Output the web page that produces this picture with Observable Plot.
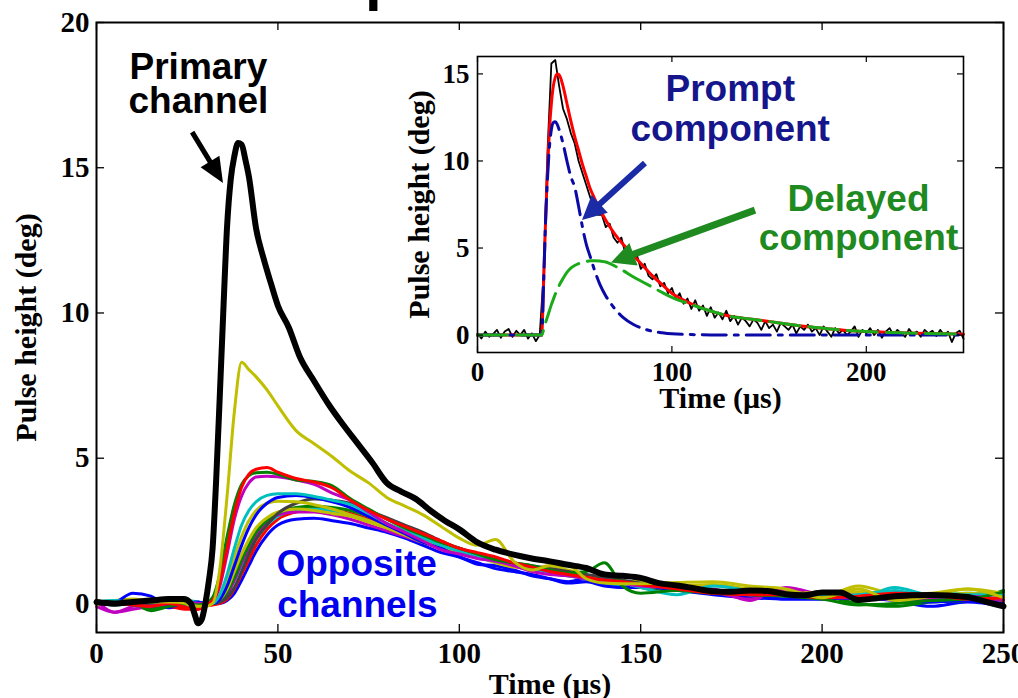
<!DOCTYPE html>
<html><head><meta charset="utf-8">
<script src="https://cdn.jsdelivr.net/npm/d3@7"></script>
<script src="https://cdn.jsdelivr.net/npm/@observablehq/plot@0.6"></script>
<style>
html,body{margin:0;padding:0;background:#fff;overflow:hidden}
#wrap{position:relative;width:1018px;height:698px}
#main{position:absolute;left:0;top:0}
#inset{position:absolute;left:400px;top:40px}
#ttl{position:absolute;left:365px;top:-51px;font:bold 60px 'Liberation Sans',Arial,sans-serif;line-height:60px}
svg{overflow:visible}
</style></head><body>
<div id="wrap"><div id="main"></div><div id="inset"></div><div id="ttl">p</div></div>
<script>
// ---------- tick values & labels ----------
const xTicks = [0, 50, 100, 150, 200, 250];
const yTicks = [0, 5, 10, 15, 20];
const insetXTicks = [0, 100, 200];
const insetYTicks = [0, 5, 10, 15];
const xLabel = "Time (\u03bcs)";
const yLabel = "Pulse height (deg)";

// ---------- main plot: primary channel ----------
const tPrimary = [0,5,10,15,20,24,26,27,28,29, 30,31,32,33,34,35,36,37,38,39, 40,41,42,44,46,48,50,53,56,60,
  64,68,72,76,80,84,88,92,96,100, 105,110,115,120,125,130,135,140,145,150, 155,160,165,170,175,180,185,190,195,200,
  205,210,215,220,230,240,245,250];
const vPrimary = [0.05,0.0,0.05,0.1,0.15,0.15,0.0,-0.35,-0.68,-0.55, 0.0,0.8,1.9,4.3,7.2,10.2,13.0,14.6,15.4,15.85,
  15.8,15.3,14.7,12.9,11.9,11.05,10.25,9.5,8.5,7.65, 6.85,6.15,5.5,4.85,4.15,3.85,3.6,3.2,2.85,2.55,
  2.1,1.85,1.68,1.55,1.45,1.33,1.22,1.0,0.95,0.88, 0.7,0.62,0.52,0.42,0.4,0.45,0.43,0.32,0.28,0.38,
  0.38,0.12,0.18,0.25,0.29,0.22,0.06,-0.1];

// ---------- main plot: opposite channels (shared time grid) ----------
const tOpp = [0,5,10,15,20,25,28,30,32,34, 36,38,40,42,44,47,50,55,60,65, 70,75,80,85,90,95,100,105,110,115,
  120,125,130,135,140,145,150,160,170,180, 190,200,210,220,230,240,250];
const oppY8 = [0.1,0.0,0.1,0.05,0.05,0.0,-0.1,-0.1,0.0,1.2, 3.7,6.6,8.3,8.05,7.8,7.35,6.8,5.95,5.5,5.05,
  4.55,4.15,3.65,3.35,3.05,2.65,2.25,2.0,2.2,1.45, 1.15,1.3,1.3,0.85,0.7,0.68,0.68,0.72,0.75,0.6, 0.5,0.2,0.5,0.1,0.25,0.5,0.2];
const oppR1 = [0.0,0.0,-0.05,-0.1,0.0,-0.15,-0.2,-0.05,0.1,0.7, 1.9,3.1,4.0,4.45,4.62,4.68,4.52,4.3,4.18,3.98,
  3.55,3.2,2.9,2.65,2.4,2.15,1.9,1.75,1.6,1.4, 1.25,1.1,1.0,0.9,0.8,0.75,0.65,0.5,0.35,0.3, 0.3,0.2,0.25,0.35,0.3,0.15,0.2];
const oppG1 = [0.05,-0.05,0.0,-0.25,-0.1,0.0,-0.05,0.0,0.2,1.0, 2.3,3.4,4.1,4.4,4.5,4.52,4.45,4.25,4.2,4.05,
  3.6,3.25,2.9,2.6,2.35,2.1,1.9,1.7,1.5,1.4, 1.3,1.15,1.05,1.1,1.4,0.6,0.35,0.45,0.35,0.3, 0.25,0.15,-0.05,0.0,0.1,0.15,0.4];
const oppM1 = [0.1,-0.3,-0.2,-0.1,0.0,0.05,0.0,0.0,0.1,0.6, 1.7,2.9,3.7,4.15,4.35,4.38,4.36,4.25,4.1,3.8,
  3.55,3.15,2.75,2.45,2.15,1.85,1.7,1.55,1.45,1.3, 1.1,1.0,0.95,0.85,0.8,0.7,0.6,0.55,0.4,0.15, 0.5,0.2,0.2,0.15,0.2,0.25,0.15];
const oppC1 = [0.05,0.1,0.0,0.1,0.18,0.05,0.0,-0.05,0.0,0.3, 1.0,1.9,2.7,3.2,3.5,3.72,3.78,3.78,3.68,3.55,
  3.4,3.1,2.75,2.5,2.25,2.0,1.8,1.6,1.45,1.35, 1.2,1.05,0.95,0.85,0.75,0.7,0.55,0.3,0.6,0.45, 0.35,0.25,0.3,0.45,0.2,0.3,0.3];
const oppB1 = [0.0,0.05,0.35,0.25,-0.1,0.0,0.05,0.0,0.0,0.15, 0.6,1.3,2.0,2.6,3.05,3.45,3.65,3.72,3.65,3.5,
  3.3,3.0,2.7,2.4,2.1,1.9,1.6,1.4,1.2,1.1, 1.0,0.85,0.7,0.75,0.6,0.55,0.6,0.45,0.35,0.3, 0.15,0.15,0.2,0.15,0.05,0.1,0.0];
const oppY2 = [-0.05,0.05,0.1,0.15,0.05,-0.05,-0.1,-0.05,0.0,0.2, 0.8,1.6,2.3,2.85,3.2,3.45,3.52,3.5,3.4,3.25,
  3.05,2.85,2.6,2.35,2.1,1.9,1.75,1.6,1.4,1.25, 1.2,1.1,1.0,0.85,0.75,0.7,0.6,0.5,0.45,0.35, 0.3,0.25,0.6,0.3,0.2,0.35,0.25];
const oppK1 = [0.0,0.0,0.05,0.0,0.05,0.0,0.0,0.0,0.0,0.05, 0.2,0.55,1.1,1.7,2.2,2.7,3.1,3.45,3.6,3.55,
  3.45,3.2,2.95,2.7,2.45,2.15,1.9,1.7,1.55,1.4, 1.3,1.2,1.1,1.0,0.9,0.8,0.7,0.55,0.45,0.4, 0.35,0.3,0.25,0.25,0.2,0.2,0.15];
const oppG2 = [0.05,0.0,-0.05,-0.2,-0.05,0.0,0.0,0.0,0.0,0.1, 0.4,0.9,1.5,2.0,2.45,2.85,3.1,3.3,3.35,3.3,
  3.2,3.0,2.75,2.5,2.3,2.05,1.85,1.65,1.5,1.35, 1.25,1.15,1.05,0.95,0.9,0.8,0.55,0.5,0.4,0.35, 0.3,0.25,0.0,-0.1,0.05,0.1,0.45];
const oppM2 = [-0.1,-0.3,-0.1,0.0,0.05,0.0,-0.05,0.0,0.0,0.05, 0.3,0.8,1.4,1.9,2.35,2.8,3.05,3.15,3.15,3.05,
  2.9,2.7,2.5,2.3,2.1,1.9,1.75,1.6,1.45,1.3, 1.15,1.05,0.95,0.9,0.85,0.75,0.7,0.55,0.5,0.1, 0.55,0.3,0.2,0.15,0.1,0.1,0.15];
const oppC2 = [0.1,0.0,0.05,0.1,0.2,0.1,0.05,0.0,0.0,0.1, 0.35,0.8,1.3,1.8,2.25,2.7,3.0,3.2,3.25,3.2,
  3.05,2.85,2.6,2.4,2.15,1.95,1.8,1.6,1.45,1.35, 1.2,1.1,1.05,0.9,0.7,0.6,0.7,0.55,0.45,0.4, 0.3,0.25,0.2,0.55,0.3,0.35,0.3];
const oppR2 = [0.0,0.05,0.0,-0.05,-0.1,-0.2,-0.2,-0.1,-0.05,0.0, 0.15,0.5,1.0,1.5,2.0,2.55,2.9,3.15,3.25,3.2,
  3.1,2.9,2.7,2.5,2.25,2.0,1.8,1.65,1.5,1.35, 1.25,1.1,1.0,0.9,0.8,0.7,0.65,0.5,0.4,0.35, 0.3,0.25,0.3,0.2,0.25,0.2,0.1];
const oppB2 = [0.0,-0.05,0.0,-0.1,-0.15,-0.1,-0.1,-0.05,0.0,0.0, 0.1,0.35,0.8,1.3,1.8,2.35,2.7,2.9,2.93,2.85,
  2.75,2.6,2.45,2.25,2.0,1.75,1.6,1.35,1.3,1.15, 0.95,0.85,0.75,0.85,0.65,0.55,0.55,0.45,0.3,0.2, 0.15,0.15,0.2,0.1,-0.1,0.05,-0.1];
const oppY3 = [0.05,0.1,0.15,0.05,0.1,0.0,-0.1,-0.05,0.0,0.15, 0.5,1.1,1.7,2.2,2.6,2.95,3.15,3.25,3.2,3.1,
  3.0,2.8,2.6,2.4,2.2,2.0,1.8,1.6,1.45,1.35, 1.2,1.3,1.15,0.95,0.75,0.7,0.8,0.6,0.65,0.5, 0.4,0.35,0.4,0.3,0.35,0.5,0.35];

const cB = "#0000ff", cG = "#008000", cR = "#ff0000", cC = "#00bfbf", cM = "#bf00bf", cY = "#bfbf00", cK = "#404040";
const channels = [
  {v: oppB2, c: cB}, {v: oppR2, c: cR}, {v: oppC2, c: cC}, {v: oppM2, c: cM}, {v: oppG2, c: cG}, {v: oppY3, c: cY},
  {v: oppK1, c: cK}, {v: oppY2, c: cY}, {v: oppB1, c: cB}, {v: oppC1, c: cC},
  {v: oppM1, c: cM}, {v: oppG1, c: cG}, {v: oppR1, c: cR}, {v: oppY8, c: cY}
];

// ---------- inset data ----------
const tInsetRaw = d3.range(0, 251, 2);
const vInsetRaw = [0.1,-0.2,0.2,-0.1,0.05,0.3,-0.15,0.2,0.35,-0.1,0.25,0.0,0.3,-0.2,0.1,-0.35,0.0,
  3.5,10.5,15.6,15.8,14.3,13.0,12.4,11.6,11.0,10.0,9.3,8.6,7.9,7.4,
  6.9,6.9,6.2,6.4,5.6,5.3,5.6,4.7,5.0,4.3,4.6,3.8,4.1,3.4,3.2,3.5,2.8,3.0,2.4,2.7,
  2.1,2.4,1.8,2.1,1.5,2.0,1.4,1.7,1.1,1.6,1.0,1.3,0.9,1.4,0.8,1.1,0.6,1.0,0.8,0.5,0.9,0.7,0.3,0.8,0.4,
  0.6,0.2,0.7,0.5,0.3,0.6,0.1,0.5,0.3,0.6,0.2,0.4,0.0,0.5,0.2,-0.1,0.4,0.1,0.3,0.0,0.2,0.5,-0.1,0.3,0.1,
  0.4,0.0,0.3,-0.15,0.2,0.4,0.0,0.3,0.1,-0.1,0.35,0.05,0.2,-0.1,0.3,0.1,0.25,-0.05,0.3,0.0,0.2,-0.4,0.1,0.25,-0.2];
const tFit = [0,33,34,35,36,37,38,39,40,41, 42,44,46,48,50,52,54,56,58,60, 63,66,70,75,80,85,90,95,100,110,
  120,130,140,150,160,170,180,190,200,220, 240,250];
const vFitTotal = [0,0,3.0,6.5,9.5,11.8,13.3,14.3,14.8,15.0, 14.95,14.3,13.3,12.3,11.4,10.6,9.8,9.1,8.4,7.9,
  7.2,6.6,5.9,5.2,4.6,4.0,3.4,2.9,2.4,1.8, 1.38,1.08,0.93,0.78,0.62,0.48,0.37,0.27,0.2,0.12, 0.07,0.05];
const vPrompt = [0,0,3.0,6.5,9.0,10.8,11.8,12.2,12.25,12.1, 11.8,11.0,10.0,9.1,8.5,7.4,6.2,5.2,4.5,3.8,
  2.9,2.25,1.6,1.0,0.62,0.38,0.22,0.13,0.07,0.03, 0.01,0,0,0,0,0,0,0,0,0, 0,0];
const vDelayed = [0,0,0.3,0.7,1.05,1.4,1.75,2.05,2.35,2.6, 2.85,3.25,3.6,3.85,4.0,4.1,4.18,4.23,4.27,4.27,
  4.25,4.2,4.0,3.7,3.35,3.05,2.75,2.45,2.17,1.75, 1.38,1.08,0.93,0.78,0.62,0.48,0.37,0.27,0.2,0.12, 0.07,0.05];

// ---------- annotations ----------
const mainNotes = [
  {x: 28.1, y: 18.07, s: "Primary", c: "#000"},
  {x: 28.1, y: 16.9, s: "channel", c: "#000"},
  {x: 71.7, y: 0.96, s: "Opposite", c: "#0000ee"},
  {x: 71.9, y: -0.48, s: "channels", c: "#0000ee"}
];
const mainArrows = [{x1: 26.5, y1: 16.21, x2: 35.0, y2: 14.46, c: "#000", w: 5, head: 25, half: 11}];
const insetNotes = [
  {x: 130, y: 13.47, s: "Prompt", c: "#16168c"},
  {x: 130, y: 11.12, s: "component", c: "#16168c"},
  {x: 196, y: 7.1, s: "Delayed", c: "#1f8a1f"},
  {x: 196, y: 4.86, s: "component", c: "#1f8a1f"}
];
const insetArrows = [
  {x1: 86.4, y1: 9.86, x2: 54.0, y2: 6.58, c: "#1b2aa5", w: 6, head: 24, half: 12},
  {x1: 143, y1: 7.15, x2: 68.9, y2: 4.14, c: "#1f8a1f", w: 7, head: 24, half: 12}
];

function arrowMark(arrows) {
  return (index, scales) => {
    const g = d3.create("svg:g");
    for (const a of arrows) {
      const x1 = scales.x(a.x1), y1 = scales.y(a.y1), x2 = scales.x(a.x2), y2 = scales.y(a.y2);
      const dx = x2 - x1, dy = y2 - y1, L = Math.hypot(dx, dy), ux = dx / L, uy = dy / L;
      const bx = x2 - ux * a.head, by = y2 - uy * a.head;
      g.append("line").attr("x1", x1).attr("y1", y1).attr("x2", bx + ux * 3).attr("y2", by + uy * 3)
        .attr("stroke", a.c).attr("stroke-width", a.w);
      g.append("path").attr("d", `M${x2},${y2}L${bx - uy * a.half},${by + ux * a.half}L${bx + uy * a.half},${by - ux * a.half}Z`)
        .attr("fill", a.c);
    }
    return g.node();
  };
}
const noteFont = {fontFamily: "'Liberation Sans', Arial, sans-serif", fontWeight: "bold", fontSize: 37, lineAnchor: "bottom", textAnchor: "middle"};
const serif = "'Liberation Serif', 'Times New Roman', serif";

// ---------- main plot ----------
const W = 1018, H = 698, mL = 96, mR = 15, mT = 22, mB = 66;
const fw = W - mL - mR, fh = H - mT - mB;
const main = Plot.plot({
  width: W, height: H, marginLeft: mL, marginRight: mR, marginTop: mT, marginBottom: mB,
  x: {domain: [0, 250]}, y: {domain: [-1, 20]},
  style: {fontFamily: serif, fontSize: "29px", fontWeight: "bold", background: "transparent", color: "#000", overflow: "visible"},
  marks: [
    ...channels.map(ch => Plot.line(tOpp, {x: d => d, y: (d, i) => ch.v[i], stroke: ch.c, strokeWidth: 3, curve: "monotone-x"})),
    Plot.line(tPrimary, {x: d => d, y: (d, i) => vPrimary[i], stroke: "#000", strokeWidth: 6, curve: "monotone-x"}),
    Plot.tickX(xTicks, {x: d => d, insetTop: fh - 8, stroke: "#000", strokeWidth: 1.3}),
    Plot.tickX(xTicks, {x: d => d, insetBottom: fh - 8, stroke: "#000", strokeWidth: 1.3}),
    Plot.tickY(yTicks, {y: d => d, insetLeft: fw - 8, stroke: "#000", strokeWidth: 1.3}),
    Plot.tickY(yTicks, {y: d => d, insetRight: fw - 8, stroke: "#000", strokeWidth: 1.3}),
    Plot.frame({stroke: "#000", strokeWidth: 2}),
    Plot.axisX({ticks: xTicks, tickSize: 0, tickPadding: 10, label: null}),
    Plot.axisY({ticks: yTicks, tickSize: 0, tickPadding: 7, label: null}),
    Plot.text([xLabel], {text: d => d, frameAnchor: "bottom", dy: 61, lineAnchor: "bottom", fontSize: 30}),
    Plot.text([yLabel], {text: d => d, frameAnchor: "left", textAnchor: "middle", dx: -70, rotate: -90, fontSize: 30}),
    Plot.text(mainNotes, {x: "x", y: "y", text: "s", fill: "c", ...noteFont}),
    arrowMark(mainArrows)
  ]
});
document.getElementById("main").appendChild(main);

// ---------- inset ----------
const iW = 580, iH = 380, imL = 77, imR = 17, imT = 16, imB = 68;
const ifw = iW - imL - imR, ifh = iH - imT - imB;
const inset = Plot.plot({
  width: iW, height: iH, marginLeft: imL, marginRight: imR, marginTop: imT, marginBottom: imB,
  x: {domain: [0, 250]}, y: {domain: [-1, 16]},
  style: {fontFamily: serif, fontSize: "27px", fontWeight: "bold", background: "transparent", color: "#000", overflow: "visible"},
  marks: [
    Plot.line(tInsetRaw, {x: d => d, y: (d, i) => vInsetRaw[i], stroke: "#000", strokeWidth: 1.8}),
    Plot.line(tFit, {x: d => d, y: (d, i) => vFitTotal[i], stroke: "#ff0000", strokeWidth: 3, curve: "monotone-x"}),
    Plot.line(tFit, {x: d => d, y: (d, i) => vPrompt[i], stroke: "#0a0aa8", strokeWidth: 3, strokeDasharray: "24,8,4,8", curve: "monotone-x"}),
    Plot.line(tFit, {x: d => d, y: (d, i) => vDelayed[i], stroke: "#1aaa1a", strokeWidth: 3, strokeDasharray: "30,9", curve: "monotone-x"}),
    Plot.tickX(insetXTicks, {x: d => d, insetTop: ifh - 6, stroke: "#000", strokeWidth: 1.2}),
    Plot.tickX(insetXTicks, {x: d => d, insetBottom: ifh - 6, stroke: "#000", strokeWidth: 1.2}),
    Plot.tickY(insetYTicks, {y: d => d, insetLeft: ifw - 6, stroke: "#000", strokeWidth: 1.2}),
    Plot.tickY(insetYTicks, {y: d => d, insetRight: ifw - 6, stroke: "#000", strokeWidth: 1.2}),
    Plot.frame({stroke: "#000", strokeWidth: 1.6}),
    Plot.axisX({ticks: insetXTicks, tickSize: 0, tickPadding: 9, label: null}),
    Plot.axisY({ticks: insetYTicks, tickSize: 0, tickPadding: 8, label: null}),
    Plot.text([xLabel], {text: d => d, frameAnchor: "bottom", dy: 55, lineAnchor: "bottom", fontSize: 30}),
    Plot.text([yLabel], {text: d => d, frameAnchor: "left", textAnchor: "middle", dx: -58, rotate: -90, fontSize: 30}),
    Plot.text(insetNotes, {x: "x", y: "y", text: "s", fill: "c", ...noteFont}),
    arrowMark(insetArrows)
  ]
});
document.getElementById("inset").appendChild(inset);
</script>
</body></html>
